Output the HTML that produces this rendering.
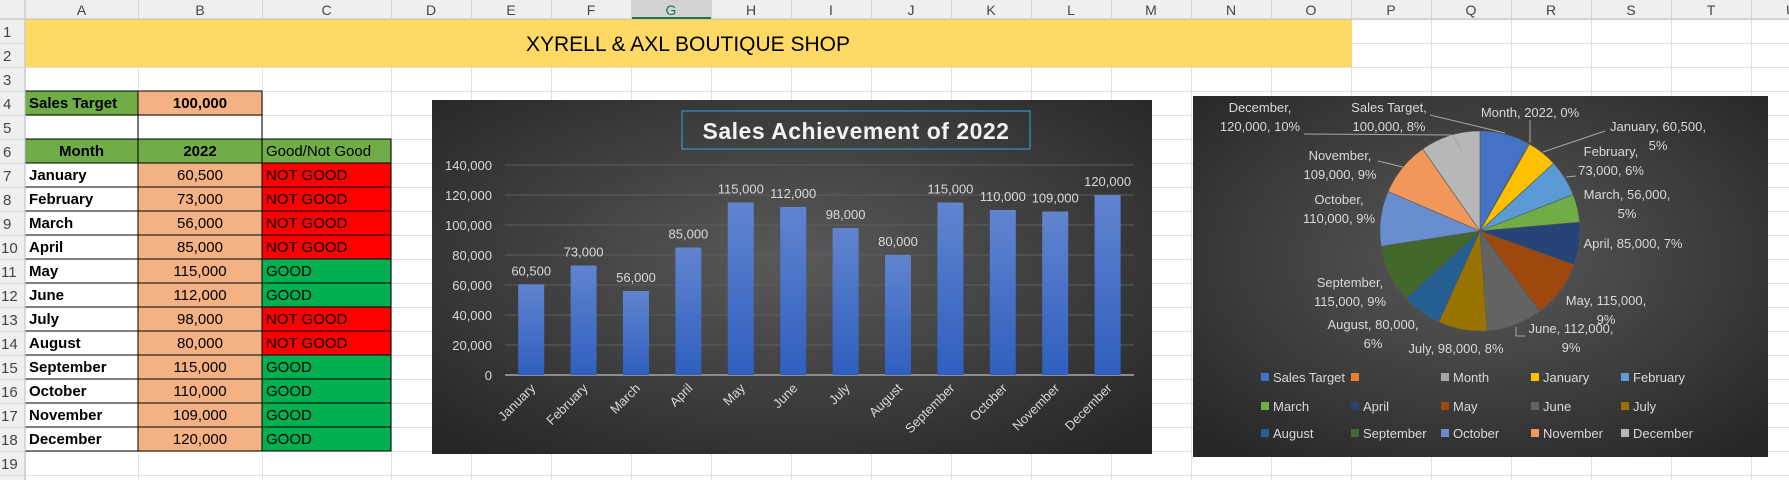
<!DOCTYPE html>
<html><head><meta charset="utf-8"><style>
html,body{margin:0;padding:0;background:#fff;width:1789px;height:480px;overflow:hidden}
svg{display:block}
.t{font-family:"Liberation Sans",sans-serif}
</style></head><body>
<svg id="s" width="1789" height="480" xmlns="http://www.w3.org/2000/svg" class="t">
<defs>
<radialGradient id="bg1" cx="50%" cy="45%" r="70%"><stop offset="0" stop-color="#5a5a5a"/><stop offset="1" stop-color="#262626"/></radialGradient>
<linearGradient id="bar" x1="0" y1="0" x2="0" y2="1"><stop offset="0" stop-color="#6184cf"/><stop offset="1" stop-color="#2f5fbf"/></linearGradient>
</defs>
<g id="grid"></g>
<!-- title band -->
<rect x="25" y="19" width="1327" height="48" fill="#ffd966"/>
<text x="688" y="51" font-size="21" text-anchor="middle" fill="#000">XYRELL &amp; AXL BOUTIQUE SHOP</text>
<g id="table"></g>
<g id="headers"></g>
<!-- bar chart -->
<rect x="432" y="100" width="720" height="354" fill="url(#bg1)"/>
<g id="bars"></g>
<rect x="682" y="111" width="348" height="38" fill="none" stroke="#2ea7d8" stroke-width="1"/>
<text x="856" y="139" font-size="23" font-weight="bold" text-anchor="middle" fill="#f2f2f2" letter-spacing="0.5">Sales Achievement of 2022</text>
<!-- pie chart -->
<rect x="1193" y="96" width="575" height="361" fill="url(#bg1)"/>
<g id="pie"></g>
</svg>
<script>
var NS="http://www.w3.org/2000/svg";
function el(p,tag,a,txt){var e=document.createElementNS(NS,tag);for(var k in a)e.setAttribute(k,a[k]);if(txt!==undefined)e.textContent=txt;p.appendChild(e);return e;}
var g=document.getElementById('grid');
var cols=[25,138,262,391];for(var x=471;x<=1800;x+=80)cols.push(x);
var rows=[];for(var y=19;y<=500;y+=24)rows.push(y);
cols.forEach(function(x){el(g,'line',{x1:x+.5,y1:19,x2:x+.5,y2:480,stroke:'#e1e1e1'});});
rows.forEach(function(y){el(g,'line',{x1:0,y1:y+.5,x2:1789,y2:y+.5,stroke:'#e1e1e1'});});
// headers
var h=document.getElementById('headers');
el(h,'rect',{x:0,y:0,width:1789,height:19,fill:'#efefef'});
el(h,'rect',{x:0,y:19,width:25,height:461,fill:'#efefef'});
el(h,'line',{x1:0,y1:19,x2:1789,y2:19,stroke:'#bdbdbd'});
el(h,'line',{x1:25,y1:0,x2:25,y2:480,stroke:'#bdbdbd'});
el(h,'rect',{x:631,y:0,width:80,height:19,fill:'#d2d2d2'});
el(h,'rect',{x:631,y:17,width:80,height:2,fill:'#217346'});
var L="ABCDEFGHIJKLMNOPQRSTU";
for(var i=0;i<cols.length;i++){var x0=cols[i],x1=cols[i+1]||x0+80;
 el(h,'line',{x1:x0+.5,y1:0,x2:x0+.5,y2:19,stroke:'#d4d4d4'});
 if(i<L.length)el(h,'text',{x:(x0+x1)/2,y:15,'font-size':14,'text-anchor':'middle',fill:i==6?'#217346':'#444'},L[i]);}
for(var r=1;r<=19;r++){var y=19+(r-1)*24;el(h,'text',{x:r>=10?1:3,y:y+18,'font-size':15,fill:'#444'},r);el(h,'line',{x1:0,y1:y+24.5,x2:25,y2:y+24.5,stroke:'#d4d4d4'});}
// table
var t=document.getElementById('table');
function cell(x,y,w,fill,txt,anchor,bold,col){el(t,'rect',{x:x,y:y,width:w,height:24,fill:fill,stroke:'#000','stroke-width':1});
 if(txt){var tx=anchor=='middle'?x+w/2:x+4;el(t,'text',{x:tx,y:y+17,'font-size':15,'text-anchor':anchor,'font-weight':bold?'bold':'normal',fill:col||'#000'},txt);}}
cell(25,91,113,'#70ad47','Sales Target','start',1);
cell(138,91,124,'#f4b183','100,000','middle',1);
el(t,'rect',{x:138,y:115,width:124,height:24,fill:'none',stroke:'#000'});
cell(25,139,113,'#70ad47','Month','middle',1);
cell(138,139,124,'#70ad47','2022','middle',1);
cell(262,139,129,'#70ad47','Good/Not Good','start',0);
var M=['January','February','March','April','May','June','July','August','September','October','November','December'];
var V=[60500,73000,56000,85000,115000,112000,98000,80000,115000,110000,109000,120000];
function f(v){return v.toString().replace(/\B(?=(\d{3})+(?!\d))/g,',');}
M.forEach(function(m,i){var y=163+i*24;var good=V[i]>=100000;
 cell(25,y,113,'#fff',m,'start',1);cell(138,y,124,'#f4b183',f(V[i]),'middle',0);
 cell(262,y,129,good?'#00b050':'#ff0000',good?'GOOD':'NOT GOOD','start',0);});
// bars
var b=document.getElementById('bars');
for(var k=0;k<=7;k++){var y=375-k*30;
 el(b,'line',{x1:505,y1:y,x2:1134,y2:y,stroke:k==0?'#8c8c8c':'#5e5e5e','stroke-width':k==0?2:1});
 el(b,'text',{x:492,y:y+5,'font-size':13,'text-anchor':'end',fill:'#d9d9d9'},f(k*20000));}
M.forEach(function(m,i){var cx=505+52.4*(i+.5);var hgt=V[i]*0.0015;
 el(b,'rect',{x:cx-13,y:375-hgt,width:26,height:hgt,fill:'url(#bar)'});
 el(b,'text',{x:cx,y:375-hgt-9,'font-size':13,'text-anchor':'middle',fill:'#d9d9d9'},f(V[i]));
 el(b,'text',{x:cx+5,y:389,'font-size':13,'text-anchor':'end',fill:'#d9d9d9',transform:'rotate(-45 '+(cx+5)+' 389)'},m);});
// pie
var p=document.getElementById('pie');
var cx=1480,cy=231,R=100;
var vals=[100000,2022].concat(V);
var cols2=['#4472c4','#a5a5a5','#ffc000','#5b9bd5','#70ad47','#264478','#9e480e','#636363','#997300','#255e91','#43682b','#698ed0','#f1975a','#b7b7b7'];
var tot=vals.reduce(function(a,c){return a+c},0);var a0=-Math.PI/2;
vals.forEach(function(v,i){var a1=a0+v/tot*2*Math.PI;
 var x0=cx+R*Math.cos(a0),y0=cy+R*Math.sin(a0),x1=cx+R*Math.cos(a1),y1=cy+R*Math.sin(a1);
 el(p,'path',{d:'M'+cx+','+cy+'L'+x0+','+y0+'A'+R+','+R+' 0 '+((a1-a0)>Math.PI?1:0)+' 1 '+x1+','+y1+'Z',fill:cols2[i],stroke:'#555','stroke-width':0.6});a0=a1;});
var lines=[[1304,134,1452,135,1462,150],[1430,115,1505,133],[1530,120,1530,143],[1605,131,1543,152],[1576,176,1566,177],[1378,161,1403,167],[1516,327,1516,336,1525,336]];
lines.forEach(function(l){var d='M'+l[0]+','+l[1];for(var j=2;j<l.length;j+=2)d+='L'+l[j]+','+l[j+1];el(p,'path',{d:d,fill:'none',stroke:'#a6a6a6','stroke-width':1});});
var labs=[[1260,112,'December,'],[1260,131,'120,000, 10%'],[1389,112,'Sales Target,'],[1389,131,'100,000, 8%'],[1530,117,'Month, 2022, 0%'],
[1658,131,'January, 60,500,'],[1658,150,'5%'],[1611,156,'February,'],[1611,175,'73,000, 6%'],[1627,199,'March, 56,000,'],[1627,218,'5%'],
[1633,248,'April, 85,000, 7%'],[1606,305,'May, 115,000,'],[1606,324,'9%'],[1571,333,'June, 112,000,'],[1571,352,'9%'],[1456,353,'July, 98,000, 8%'],
[1373,329,'August, 80,000,'],[1373,348,'6%'],[1350,287,'September,'],[1350,306,'115,000, 9%'],[1339,204,'October,'],[1339,223,'110,000, 9%'],
[1340,160,'November,'],[1340,179,'109,000, 9%']];
labs.forEach(function(l){el(p,'text',{x:l[0],y:l[1],'font-size':13,'text-anchor':'middle',fill:'#d9d9d9'},l[2]);});
var leg=[['Sales Target','#4472c4'],['','#ed7d31'],['Month','#a5a5a5'],['January','#ffc000'],['February','#5b9bd5'],['March','#70ad47'],['April','#264478'],['May','#9e480e'],['June','#636363'],['July','#997300'],['August','#255e91'],['September','#43682b'],['October','#698ed0'],['November','#f1975a'],['December','#b7b7b7']];
var lx=[1261,1351,1441,1531,1621],ly=[378,407,434];
leg.forEach(function(l,i){var x=lx[i%5],y=ly[Math.floor(i/5)];
 el(p,'rect',{x:x,y:y-5,width:8,height:8,fill:l[1]});
 el(p,'text',{x:x+12,y:y+4,'font-size':13,fill:'#d9d9d9'},l[0]);});
</script>
</body></html>
